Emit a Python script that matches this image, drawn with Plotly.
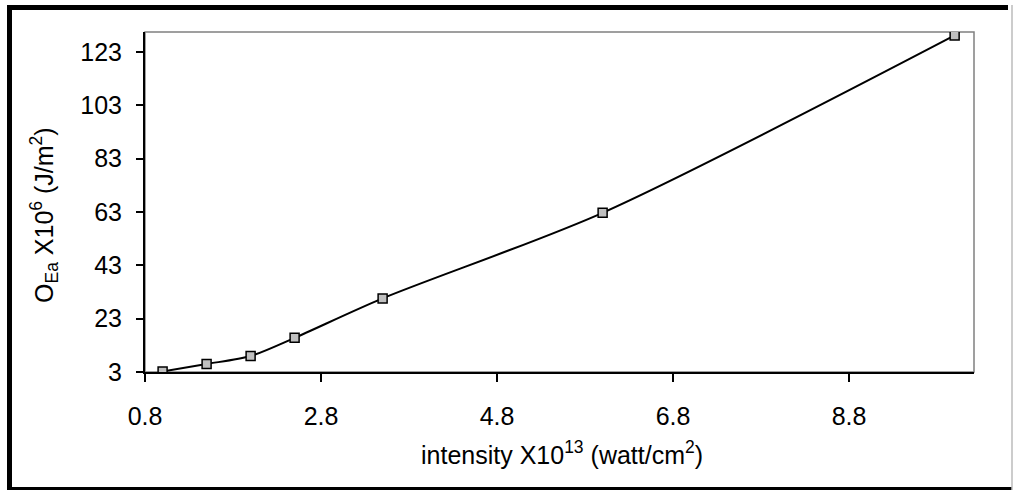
import plotly.graph_objects as go

# Data
intensity = [1.0, 1.5, 2.0, 2.5, 3.5, 6.0, 10.0]
energy = [3.2, 6.0, 9.0, 15.8, 30.6, 62.7, 129.2]
x_ticks = [0.8, 2.8, 4.8, 6.8, 8.8]
y_ticks = [3, 23, 43, 63, 83, 103, 123]
x_title = "intensity X10<sup>13</sup> (watt/cm<sup>2</sup>)"
y_title = "O<sub>Ea</sub> X10<sup>6</sup> (J/m<sup>2</sup>)"

W, H = 1013, 490
ML, MR, MT, MB = 145, 39, 32, 118
PW, PH = W - ML - MR, H - MT - MB


def px(xp):
    return (xp - ML) / PW


def py(yp):
    return (H - MB - yp) / PH


FONT = "Liberation Sans, Arial, sans-serif"

fig = go.Figure()
fig.add_trace(go.Scatter(
    x=intensity, y=energy, mode="lines+markers",
    line=dict(color="black", width=2, shape="spline", smoothing=0.8),
    marker=dict(symbol="square", size=9, color="#c0c0c0",
                line=dict(color="black", width=1.5)),
    showlegend=False,
))

shapes = [
    # plot area border (gray)
    dict(type="rect", xref="paper", yref="paper", x0=0, x1=1, y0=0, y1=1,
         line=dict(color="#808080", width=1.5), layer="below"),
    # outer frame
    dict(type="line", xref="paper", yref="paper", x0=px(9.5), x1=px(9.5),
         y0=py(5), y1=py(492), line=dict(color="black", width=5)),
    dict(type="line", xref="paper", yref="paper", x0=px(7), x1=px(1008),
         y0=py(7.5), y1=py(7.5), line=dict(color="black", width=5)),
    dict(type="line", xref="paper", yref="paper", x0=px(7), x1=px(1012),
         y0=py(489), y1=py(489), line=dict(color="black", width=4)),
    dict(type="line", xref="paper", yref="paper", x0=px(1012), x1=px(1012),
         y0=py(5), y1=py(490), line=dict(color="#bbbbbb", width=1.5)),
]

annotations = [
    dict(text=x_title, xref="paper", yref="paper", x=px(562), y=py(453),
         xanchor="center", yanchor="middle", showarrow=False,
         font=dict(family=FONT, size=25, color="black")),
    dict(text=y_title, xref="paper", yref="paper", x=px(44), y=py(215),
         xanchor="center", yanchor="middle", showarrow=False, textangle=-90,
         font=dict(family=FONT, size=25, color="black")),
]

fig.update_layout(
    width=W, height=H,
    margin=dict(l=ML, r=MR, t=MT, b=MB, pad=0),
    paper_bgcolor="white", plot_bgcolor="white",
    font=dict(family=FONT, size=25, color="black"),
    shapes=shapes,
    annotations=annotations,
    xaxis=dict(
        range=[0.8, 10.22], tickvals=x_ticks, ticktext=[str(v) for v in x_ticks],
        showgrid=False, zeroline=False, showline=True, linecolor="black", linewidth=2,
        ticks="outside", ticklen=8, tickwidth=2, tickcolor="black",
        ticklabelstandoff=13, tickfont=dict(family=FONT, size=25),
    ),
    yaxis=dict(
        range=[3, 130.5], tickvals=y_ticks, ticktext=[str(v) for v in y_ticks],
        showgrid=False, zeroline=False, showline=True, linecolor="black", linewidth=2,
        ticks="outside", ticklen=7, tickwidth=2, tickcolor="black",
        ticklabelstandoff=9, tickfont=dict(family=FONT, size=25),
    ),
)

fig.write_html("out.html")
